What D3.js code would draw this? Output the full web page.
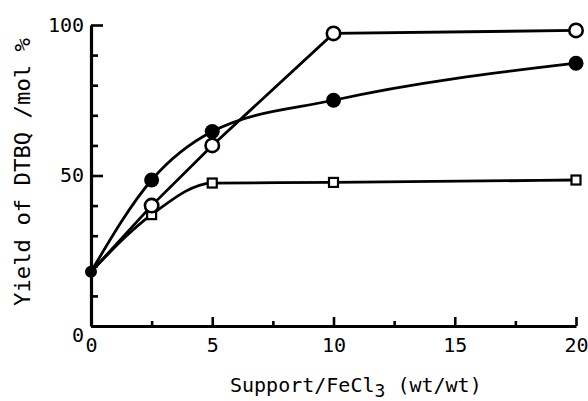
<!DOCTYPE html>
<html><head><meta charset="utf-8">
<script src="https://cdn.jsdelivr.net/npm/d3@7"></script>
<style>
html,body{margin:0;padding:0;background:#fff;}
svg{display:block;}
text{font-family:"DejaVu Sans Mono",monospace;fill:#000;}
</style></head>
<body>
<svg id="c" width="588" height="401"></svg>
<script>
const xValues = [0, 2.5, 5, 10, 20];
const openCircle = [18, 40, 60, 97.2, 98.2];
const filledCircle = [18, 48.5, 64.6, 75, 87.3];
const openSquare = [18, 37, 47.5, 47.7, 48.5];
const xMajorTicks = [0, 5, 10, 15, 20];
const xMinorTicks = [2.5, 7.5, 12.5, 17.5];
const yMajorTicks = [0, 50, 100];
const yMinorTicks = [10, 20, 30, 40, 60, 70, 80, 90];

const svg = d3.select("#c");
const x = d3.scaleLinear().domain([0, 20]).range([91, 576]);
const y = d3.scaleLinear().domain([0, 100]).range([326, 25]);

// axes
const xAxis = svg.append("g").attr("transform", `translate(0,${y(0)})`)
  .call(d3.axisBottom(x).tickValues(xMajorTicks).tickSizeInner(-9).tickSizeOuter(0).tickPadding(12).tickFormat(d3.format("d")));
const xMinor = svg.append("g").attr("transform", `translate(0,${y(0)})`)
  .call(d3.axisBottom(x).tickValues(xMinorTicks).tickSizeInner(-5).tickSizeOuter(0).tickFormat(""));
xMinor.select(".domain").remove();

const yAxis = svg.append("g").attr("transform", `translate(${x(0)},0)`)
  .call(d3.axisLeft(y).tickValues(yMajorTicks).tickSizeInner(-12).tickSizeOuter(0).tickPadding(7).tickFormat(d3.format("d")));
const yMinor = svg.append("g").attr("transform", `translate(${x(0)},0)`)
  .call(d3.axisLeft(y).tickValues(yMinorTicks).tickSizeInner(-7).tickSizeOuter(0).tickFormat(""));
yMinor.select(".domain").remove();

svg.selectAll(".domain").attr("stroke", "#000").attr("stroke-width", 3.2);
svg.selectAll(".tick line").attr("stroke", "#000").attr("stroke-width", 2.6);
svg.selectAll(".tick text").attr("font-family", "DejaVu Sans Mono").attr("font-size", 20).attr("fill", "#000");
yAxis.selectAll(".tick text").filter(d => d === 0).attr("dy", "0.75em");

// lines
const pts = vals => xValues.map((v, i) => [v, vals[i]]);
const lineMono = d3.line().x(d => x(d[0])).y(d => y(d[1])).curve(d3.curveMonotoneX);
const lineLin = d3.line().x(d => x(d[0])).y(d => y(d[1])).curve(d3.curveLinear);

svg.append("path").attr("d", lineMono(pts(openSquare))).attr("fill", "none").attr("stroke", "#000").attr("stroke-width", 2.8);
svg.append("path").attr("d", lineMono(pts(filledCircle))).attr("fill", "none").attr("stroke", "#000").attr("stroke-width", 2.8);
svg.append("path").attr("d", lineLin(pts(openCircle))).attr("fill", "none").attr("stroke", "#000").attr("stroke-width", 2.8);

// markers
svg.append("g").selectAll("rect").data(pts(openSquare).slice(1)).join("rect")
  .attr("x", d => x(d[0]) - 4.5).attr("y", d => y(d[1]) - 4.5)
  .attr("width", 9).attr("height", 9)
  .attr("fill", "#fff").attr("stroke", "#000").attr("stroke-width", 2.2);
svg.append("g").selectAll("circle").data(pts(openCircle).slice(1)).join("circle")
  .attr("cx", d => x(d[0])).attr("cy", d => y(d[1])).attr("r", 6.7)
  .attr("fill", "#fff").attr("stroke", "#000").attr("stroke-width", 2.6);
svg.append("g").selectAll("circle").data(pts(filledCircle)).join("circle")
  .attr("cx", d => x(d[0])).attr("cy", d => y(d[1])).attr("r", d => d[0] === 0 ? 6 : 7.5)
  .attr("fill", "#000").attr("stroke", "none");

// axis titles
const xt = svg.append("text").attr("x", 230).attr("y", 392).attr("font-size", 20);
xt.append("tspan").text("Support/FeCl");
xt.append("tspan").attr("dy", 5).attr("font-size", 18).text("3");
xt.append("tspan").attr("dy", -5).text(" (wt/wt)");

svg.append("text").attr("transform", "translate(30,172) rotate(-90)")
  .attr("text-anchor", "middle").attr("font-size", 21)
  .attr("textLength", 268).attr("lengthAdjust", "spacingAndGlyphs")
  .text("Yield of DTBQ /mol %");
</script>
</body></html>
